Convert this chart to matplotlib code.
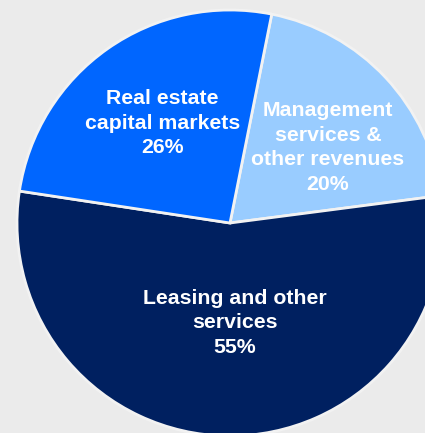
import matplotlib
matplotlib.use("Agg")
import matplotlib.pyplot as plt
import numpy as np

categories = ["Management\nservices &\nother revenues", "Leasing and other\nservices", "Real estate\ncapital markets"]
values = [20, 55, 26]
colors = ["#99ccff", "#002060", "#0066ff"]

W, H, DPI = 425, 433, 100
cx, cy, R = 230, 223, 213  # pie centre/radius in pixels

fig = plt.figure(figsize=(W / DPI, H / DPI), dpi=DPI, facecolor="#ebebeb")
ax = fig.add_axes([0, 0, 1, 1])
ax.set_facecolor("#ebebeb")

wedges, _ = ax.pie(values, colors=colors, startangle=78.7, counterclock=False,
                   radius=1.0, wedgeprops=dict(edgecolor="#f2f2f2", linewidth=2.0),
                   normalize=True)

ax.set_xlim(-cx / R, (W - cx) / R)
ax.set_ylim(-(H - cy) / R, cy / R)
ax.set_aspect("auto")
ax.axis("off")

# label placement (radius fraction, angle offset in degrees)
label_pos = [(0.58, -5.5), (0.47, 3.5), (0.565, -1.0)]
for w, cat, v, (rf, da) in zip(wedges, categories, values, label_pos):
    ang = np.deg2rad((w.theta1 + w.theta2) / 2 + da)
    x, y = rf * np.cos(ang), rf * np.sin(ang)
    ax.text(x, y, f"{cat}\n{v}%", ha="center", va="center", color="white",
            fontsize=15.3, fontweight="bold", family=["Liberation Sans", "DejaVu Sans"],
            linespacing=1.37)

fig.savefig("out.png", dpi=DPI, facecolor=fig.get_facecolor())
